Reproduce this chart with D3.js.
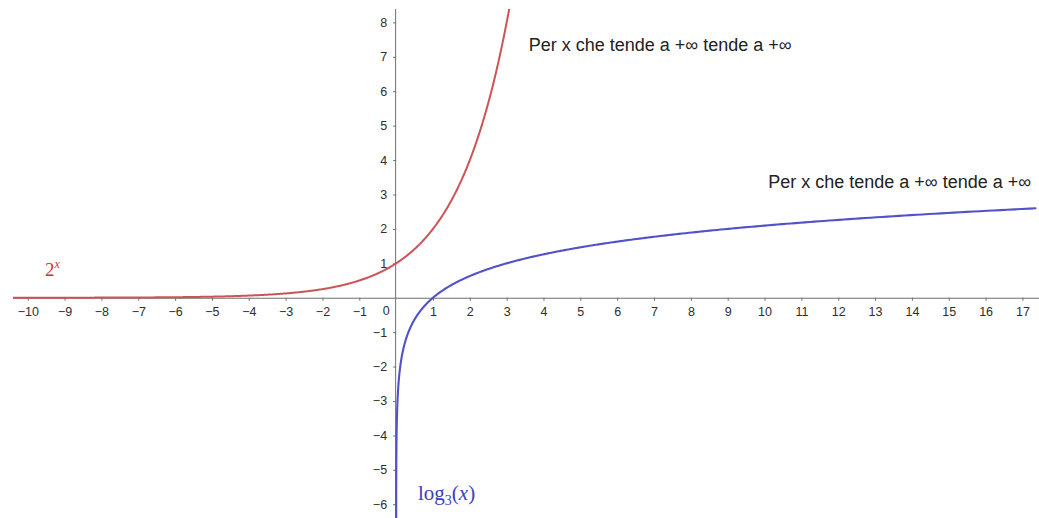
<!DOCTYPE html>
<html>
<head>
<meta charset="utf-8">
<script src="https://cdn.jsdelivr.net/npm/d3@7"></script>
<style>
  html, body { margin: 0; padding: 0; background: #fff; }
  svg { display: block; }
</style>
</head>
<body>
<svg id="chart" width="1039" height="518"></svg>
<script>
// Axis ticks and their labels
const xTickValues = [-10, -9, -8, -7, -6, -5, -4, -3, -2, -1, 1, 2, 3, 4, 5, 6, 7, 8, 9, 10, 11, 12, 13, 14, 15, 16, 17];
const yTickValues = [8, 7, 6, 5, 4, 3, 2, 1, -1, -2, -3, -4, -5, -6];
const originLabel = "0";

// Visible window of the graph (math units)
const xDomain = [-10.4, 17.45];
const yDomain = [-6.4, 8.39];

// Functions plotted and their labels
const expBase = 2;
const logBase = 3;
const annotations = [
  { text: "Per x che tende a +∞ tende a +∞", x: 3.6, y: 7.18 },
  { text: "Per x che tende a +∞ tende a +∞", x: 10.1, y: 3.2 }
];

const W = 1039, H = 518;
const plot = { left: 13, top: 9, right: 1039, bottom: 518 };

const svg = d3.select("#chart");

const x = d3.scaleLinear().domain(xDomain).range([plot.left, plot.right]);
const y = d3.scaleLinear().domain(yDomain).range([plot.bottom, plot.top]);

svg.append("rect").attr("width", W).attr("height", H).attr("fill", "#fff");

svg.append("defs").append("clipPath").attr("id", "plotClip")
  .append("rect")
  .attr("x", plot.left).attr("y", plot.top)
  .attr("width", plot.right - plot.left).attr("height", plot.bottom - plot.top);

const fmt = v => (v < 0 ? "\u2212" + Math.abs(v) : String(v));
const axisColor = "#6e6e6e";
const labelColor = "#2e2e2e";
const labelFont = "Liberation Sans, Arial, sans-serif";
const tickFontSize = 12.5;

// x axis
const xAxis = svg.append("g")
  .attr("transform", `translate(0,${y(0)})`)
  .call(d3.axisBottom(x).tickValues(xTickValues).tickFormat(fmt).tickSize(3).tickSizeOuter(0).tickPadding(6));
xAxis.select(".domain").attr("stroke", axisColor).attr("d", `M${plot.left},0.5H${plot.right}`);
xAxis.selectAll(".tick line").attr("stroke", axisColor);
xAxis.selectAll(".tick text")
  .attr("fill", labelColor).attr("font-family", labelFont).attr("font-size", tickFontSize);

// y axis
const yAxis = svg.append("g")
  .attr("transform", `translate(${x(0)},0)`)
  .call(d3.axisLeft(y).tickValues(yTickValues).tickFormat(fmt).tickSize(3).tickSizeOuter(0).tickPadding(6));
yAxis.select(".domain").attr("stroke", axisColor).attr("d", `M-0.5,${plot.top}V${plot.bottom}`);
yAxis.selectAll(".tick line").attr("stroke", axisColor);
yAxis.selectAll(".tick text")
  .attr("fill", labelColor).attr("font-family", labelFont).attr("font-size", tickFontSize);

// origin label
svg.append("text")
  .attr("x", x(0) - 10).attr("y", y(0) + 17)
  .attr("text-anchor", "middle")
  .attr("fill", labelColor).attr("font-family", labelFont).attr("font-size", tickFontSize)
  .text(originLabel);

const curves = svg.append("g").attr("clip-path", "url(#plotClip)");
const line = d3.line().x(d => x(d[0])).y(d => y(d[1])).curve(d3.curveLinear);

// exponential 2^x
const expPts = d3.range(xDomain[0], 3.2, 0.02).map(t => [t, Math.pow(expBase, t)]);
curves.append("path")
  .attr("d", line(expPts))
  .attr("fill", "none").attr("stroke", "#cc5456").attr("stroke-width", 2)
  .attr("stroke-linejoin", "round");

// logarithm log_3(x), sampled densely near the asymptote
const logXs = d3.range(-4, Math.log10(xDomain[1]) + 0.001, 0.005).map(e => Math.pow(10, e));
const logPts = logXs.map(t => [t, Math.log(t) / Math.log(logBase)]);
curves.append("path")
  .attr("d", line(logPts))
  .attr("fill", "none").attr("stroke", "#5252c8").attr("stroke-width", 2.1)
  .attr("stroke-linejoin", "round");

// curve labels
const expLabel = svg.append("text")
  .attr("x", 45).attr("y", 276)
  .attr("fill", "#c9343a").attr("font-family", "Liberation Serif, DejaVu Serif, serif").attr("font-size", 19);
expLabel.append("tspan").text("2");
expLabel.append("tspan").attr("dy", -8).attr("font-size", 12).attr("font-style", "italic").text("x");

const logLabel = svg.append("text")
  .attr("x", 418).attr("y", 500)
  .attr("fill", "#3d3dc0").attr("font-family", "Liberation Serif, DejaVu Serif, serif").attr("font-size", 21);
logLabel.append("tspan").text("log");
logLabel.append("tspan").attr("dy", 5).attr("font-size", 14).text("3");
logLabel.append("tspan").attr("dy", -5).text("(");
logLabel.append("tspan").attr("font-style", "italic").text("x");
logLabel.append("tspan").text(")");

// limit annotations
svg.selectAll("text.note").data(annotations).enter().append("text")
  .attr("class", "note")
  .attr("x", d => x(d.x)).attr("y", d => y(d.y))
  .attr("fill", "#222").attr("font-family", labelFont).attr("font-size", 18)
  .text(d => d.text);
</script>
</body>
</html>
